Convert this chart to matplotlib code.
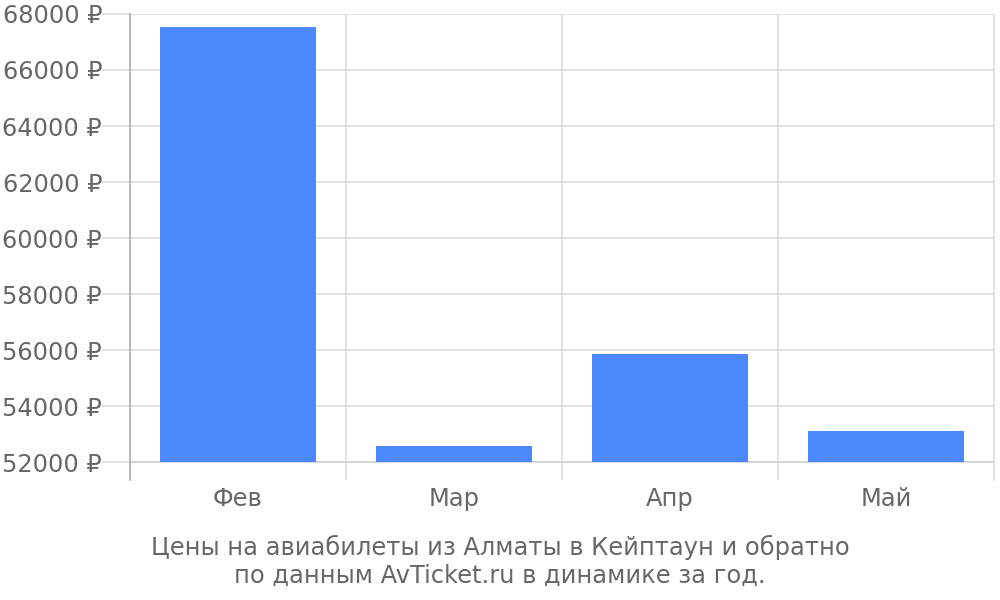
import numpy as np
import matplotlib.pyplot as plt

months = ["Фев", "Мар", "Апр", "Май"]
prices = [67540, 52570, 55860, 53100]
y_ticks = [52000, 54000, 56000, 58000, 60000, 62000, 64000, 66000, 68000]
caption = "Цены на авиабилеты из Алматы в Кейптаун и обратно\nпо данным AvTicket.ru в динамике за год."

base = 52000
text_color = "#666666"
grid_color = "#dddddd"

fig = plt.figure(figsize=(10, 6), dpi=100)
ax = fig.add_axes([0.13, 0.2, 0.864, 0.7767])

x = np.arange(len(months))
ax.bar(x, [p - base for p in prices], bottom=base, width=0.72,
       color="#4b89fc", zorder=3)

ax.set_xlim(-0.5, len(months) - 0.5)
ax.set_ylim(base - 640, 68000)

# horizontal grid with tick stubs sticking out to the left
ax.set_yticks(y_ticks)
ax.set_yticklabels([f"{v} ₽" for v in y_ticks])
ax.tick_params(axis="y", length=20, width=1.2, color=grid_color,
               labelsize=17.4, labelcolor=text_color, pad=0)
for v in y_ticks:
    ax.axhline(v, color="#cccccc" if v == base else grid_color, lw=1.2, zorder=1)

# vertical separators between categories
for b in np.arange(0.5, len(months) - 0.5, 1):
    ax.axvline(b, color=grid_color, lw=1.2, zorder=1)

ax.set_xticks(x)
ax.set_xticklabels(months)
ax.tick_params(axis="x", length=0, labelsize=17.4, labelcolor=text_color, pad=5)

for side in ["top", "bottom"]:
    ax.spines[side].set_visible(False)
ax.spines["right"].set_color(grid_color)
ax.spines["right"].set_linewidth(1.2)
ax.spines["left"].set_color("#aaaaaa")
ax.spines["left"].set_linewidth(1.2)

fig.text(0.5, 0.064, caption, ha="center", va="center", fontsize=17.4,
         color=text_color, linespacing=1.2)

fig.savefig("out.png", dpi=100)
